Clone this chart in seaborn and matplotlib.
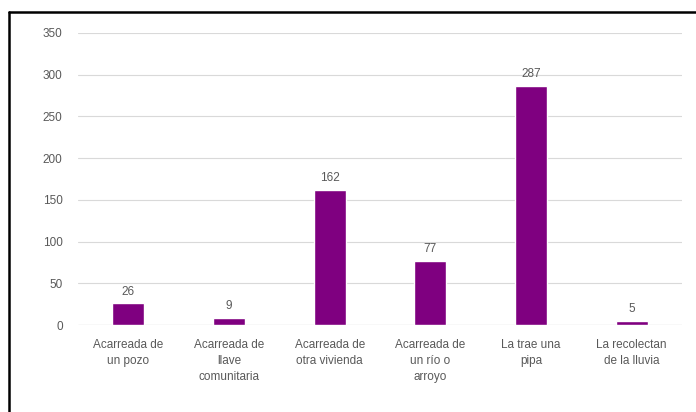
import matplotlib
matplotlib.use("Agg")
import matplotlib.pyplot as plt
import seaborn as sns
from matplotlib.lines import Line2D

categories = [
    "Acarreada de\nun pozo",
    "Acarreada de\nllave\ncomunitaria",
    "Acarreada de\notra vivienda",
    "Acarreada de\nun río o\narroyo",
    "La trae una\npipa",
    "La recolectan\nde la lluvia",
]
values = [26, 9, 162, 77, 287, 5]
y_ticks = [0, 50, 100, 150, 200, 250, 300, 350]

sns.set_style("white")
plt.rcParams["font.family"] = ["Liberation Sans", "DejaVu Sans"]

fig = plt.figure(figsize=(6.96, 4.12), dpi=100)
ax = fig.add_axes([0.112, 0.211, 0.868, 0.709])

sns.barplot(x=categories, y=values, color="#7f0080", width=0.32,
            saturation=1, ax=ax, zorder=3)

for i, v in enumerate(values):
    ax.text(i, v + 7, str(v), ha="center", va="bottom",
            fontsize=8.5, color="#595959")

ax.set_ylim(0, 350)
ax.set_yticks(y_ticks)
ax.yaxis.grid(True, color="#d9d9d9", linewidth=0.8, zorder=0)
ax.tick_params(axis="both", length=0, labelsize=8.5, labelcolor="#595959")
ax.tick_params(axis="y", pad=11)
ax.tick_params(axis="x", pad=10)
for lbl in ax.get_xticklabels():
    lbl.set_linespacing(1.45)
for s in ax.spines.values():
    s.set_visible(False)
ax.axhline(0, color="#bfbfbf", linewidth=0.8, zorder=2)

# outer frame (top and left edges of the cropped chart box)
fig.add_artist(Line2D([9 / 696, 9 / 696], [0, 1 - 12 / 412],
                      transform=fig.transFigure, color="black", linewidth=1.8))
fig.add_artist(Line2D([9 / 696, 1], [1 - 12 / 412, 1 - 12 / 412],
                      transform=fig.transFigure, color="black", linewidth=1.8))

fig.savefig("out.png", dpi=100)
plt.close()
